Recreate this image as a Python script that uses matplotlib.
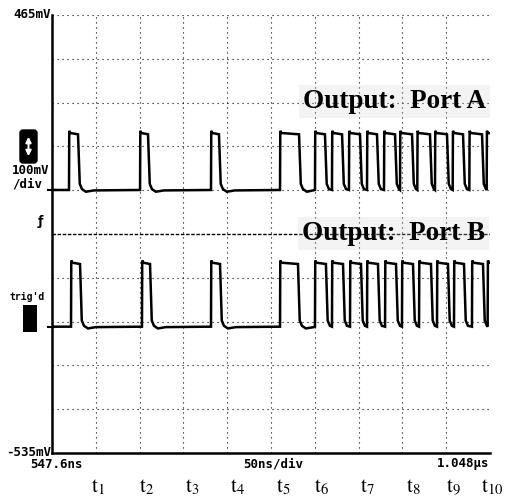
import matplotlib
matplotlib.use("Agg")
import matplotlib.pyplot as plt
from matplotlib.patches import Rectangle, FancyBboxPatch, FancyArrowPatch

W, H, DPI = 505, 499, 100

# scope settings
T_START_NS = 547.6
T_DIV_NS = 50.0
N_TDIV = 10
V_TOP_MV = 465.0
V_DIV_MV = 100.0
N_VDIV = 10
CENTER_MV = V_TOP_MV - V_DIV_MV * N_VDIV / 2

# Port A: edge times (ns) and levels (mV)
rise_a = [567.0, 648.1, 729.1, 807.9, 847.8, 867.2, 886.6, 907.2, 926.6,
          944.9, 964.6, 984.8, 1005.0, 1024.0, 1043.8]
fall_a = [577.3, 657.2, 738.2, 829.6, 859.2, 878.7, 899.2, 918.6, 939.2,
          958.6, 979.1, 998.5, 1016.8, 1038.5, 1056.0]
low_a, high_a = 65.5, 195.6

# Port B
rise_b = [569.3, 650.3, 729.1, 807.9, 847.8, 867.2, 887.8, 907.2, 927.8,
          947.1, 966.6, 987.1, 1006.5, 1027.0, 1044.9]
fall_b = [579.6, 659.5, 739.4, 828.4, 860.3, 879.8, 900.3, 919.7, 940.3,
          959.7, 980.2, 999.6, 1017.9, 1039.6, 1056.0]
low_b, high_b = -246.6, -100.5

# time markers under the axis
t_marks_ns = [600.1, 656.0, 707.4, 759.9, 811.3, 855.8, 907.2, 959.7, 1005.4, 1049.9]
t_names = [r"$\mathrm{t}_{%d}$" % i for i in range(1, 11)]

label_a = "Output:  Port A"
label_b = "Output:  Port B"

plt.rcParams["mathtext.fontset"] = "stix"


def trace(rises, falls, lo, hi, t0):
    xs, ys = [t0], [lo]
    for i, (r, f) in enumerate(zip(rises, falls)):
        nxt = rises[i + 1] if i + 1 < len(rises) else f + 100
        xs += [r, r + 0.3, r + 1.5, f]
        ys += [lo, hi + 5, hi, hi - 3]
        for dx, dy in [(2.0, 14), (4.5, 2), (9.0, -4), (18.0, -1)]:
            if f + dx < nxt - 0.5:
                xs.append(f + dx)
                ys.append(lo + dy)
    return xs, ys


def px(x, y):
    # pixel position (from top-left) -> figure fraction
    return x / W, 1 - y / H


mono = dict(family="DejaVu Sans Mono", fontweight="bold", fontsize=9, color="black")
serif_b = dict(family="Liberation Serif", fontweight="bold", fontsize=19.5,
               va="baseline", ha="left", zorder=4,
               bbox=dict(facecolor="#d0d0d0", alpha=0.25, edgecolor="none", pad=3))

fig = plt.figure(figsize=(W / DPI, H / DPI), dpi=DPI)
l, t = px(52, 15)
r, b = px(490, 453)
ax = fig.add_axes([l, b, r - l, t - b])

t_end = T_START_NS + T_DIV_NS * N_TDIV
v_bot = V_TOP_MV - V_DIV_MV * N_VDIV
ax.set_xlim(T_START_NS, t_end)
ax.set_ylim(v_bot, V_TOP_MV)

# graticule
for k in range(1, N_TDIV):
    ax.axvline(T_START_NS + k * T_DIV_NS, color="black", lw=0.8,
               ls=(0, (1, 3.5)), zorder=1)
for k in range(0, N_VDIV):
    v = V_TOP_MV - k * V_DIV_MV
    if v == CENTER_MV:
        continue
    ax.axhline(v, color="black", lw=0.8, ls=(0, (1, 3.5)), zorder=1)
ax.axhline(CENTER_MV, color="black", lw=1.0, ls=(0, (2.5, 1.2)), zorder=1)

# traces
xa, ya = trace(rise_a, fall_a, low_a, high_a, T_START_NS)
xb, yb = trace(rise_b, fall_b, low_b, high_b, T_START_NS)
ax.plot(xa, ya, color="black", lw=1.8, zorder=3, solid_joinstyle="miter")
ax.plot(xb, yb, color="black", lw=1.8, zorder=3, solid_joinstyle="miter")

for s in ["top", "right"]:
    ax.spines[s].set_visible(False)
ax.spines["left"].set_linewidth(1.8)
ax.spines["bottom"].set_linewidth(1.8)
ax.set_xticks([])
ax.set_yticks([])

# labels on the screen
ax.text(834.2, 252.7, label_a, **serif_b)
ax.text(832.5, -48.7, label_b, **serif_b)

# scope annotations outside the graticule
fig.text(*px(51, 15), f"{V_TOP_MV:.0f}mV", ha="right", va="center", **mono)
fig.text(*px(51, 453), f"{v_bot:.0f}mV", ha="right", va="center", **mono)
fig.text(*px(30, 464), f"{T_START_NS:.1f}ns", ha="left", va="center", **mono)
fig.text(*px(273, 464), f"{T_DIV_NS:.0f}ns/div", ha="center", va="center", **mono)
fig.text(*px(489, 464), f"{t_end / 1000:.3f}\u00b5s", ha="right", va="center", **mono)
fig.text(*px(12, 171), f"{V_DIV_MV:.0f}mV", ha="left", va="center", **mono)
fig.text(*px(12, 184), "/div", ha="left", va="center", **mono)
fig.text(*px(9, 297), "trig'd", ha="left", va="center",
         family="DejaVu Sans Mono", fontweight="bold", fontsize=7)
fig.text(*px(40, 222), "\u0192", ha="center", va="center", family="DejaVu Sans",
         fontweight="bold", fontsize=9)

# black box with up/down arrow
bx, by = px(20, 163)
fig.add_artist(FancyBboxPatch((bx, by), 17 / W, 33 / H,
                              boxstyle="round,pad=0,rounding_size=0.006",
                              transform=fig.transFigure, facecolor="black",
                              edgecolor="black"))
fig.add_artist(FancyArrowPatch(px(28.5, 159), px(28.5, 134), arrowstyle="<|-|>",
                               mutation_scale=8, lw=1.4, color="white",
                               transform=fig.transFigure))
# trig'd block
rx, ry = px(23, 332)
fig.add_artist(Rectangle((rx, ry), 14 / W, 27 / H, transform=fig.transFigure,
                         facecolor="black", edgecolor="none"))

# ground markers
for lv in [low_a, low_b]:
    ax.plot([T_START_NS - 4.5, T_START_NS + 4.5], [lv, lv], color="black",
            lw=1.5, clip_on=False, zorder=3)

# time markers below the axis
for tm, name in zip(t_marks_ns, t_names):
    ax.annotate(name, xy=(tm, v_bot), xycoords="data", xytext=(0, -24.5),
                textcoords="offset points", ha="center", va="center",
                fontsize=15, annotation_clip=False)

fig.savefig("out.png", dpi=DPI)
